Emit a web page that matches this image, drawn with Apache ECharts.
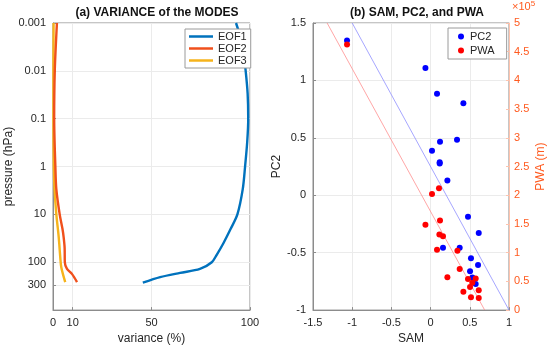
<!DOCTYPE html>
<html>
<head>
<meta charset="utf-8">
<script src="https://cdn.jsdelivr.net/npm/echarts@6/dist/echarts.min.js"></script>
<style>html,body{margin:0;padding:0;background:#fff}#c{width:550px;height:350px}</style>
</head>
<body>
<div id="c"></div>
<script>
// ---- Panel (a) data: pressure (hPa) vs variance (%)
const eof1P = [0.001, 0.003, 0.01, 0.03, 0.1, 0.3, 1, 3, 10, 20, 40, 70, 100, 138, 167, 205, 268];
const eof1V = [92.9, 96.3, 97.8, 98.8, 99.1, 98.6, 97.5, 96.3, 93.6, 90.2, 86.5, 83.1, 80.6, 74.6, 64.5, 54.4, 45.6];
const eof2P = [0.001, 0.01, 0.1, 1, 3, 10, 20, 30, 50, 100, 138, 175, 260];
const eof2V = [2.0, 0.9, 0.6, 1.2, 1.7, 3.4, 4.8, 5.4, 5.9, 6.0, 7.1, 9.6, 12.2];
const eof3P = [0.001, 0.01, 0.1, 1, 3, 10, 30, 80, 127, 260];
const eof3V = [0.3, 0.2, 0.2, 0.4, 0.8, 1.7, 2.9, 3.7, 4.2, 6.2];
const pressureTicks = [0.001, 0.01, 0.1, 1, 10, 100, 300];
const varianceTicks = [0, 10, 50, 100];

// ---- Panel (b) data
const samPC2 = [-1.066, -0.066, 0.082, 0.418, 0.337, 0.12, 0.018, 0.116, 0.116, 0.214, 0.477, 0.614, 0.158, 0.371, 0.515, 0.605, 0.503, 0.533, 0.575];
const pc2    = [1.347, 1.109, 0.884, 0.802, 0.483, 0.466, 0.388, 0.287, 0.276, 0.129, -0.187, -0.328, -0.457, -0.457, -0.549, -0.607, -0.661, -0.716, -0.773];
const samPWA = [-1.066, 0.107, 0.018, 0.12, -0.066, 0.112, 0.158, 0.082, 0.342, 0.371, 0.214, 0.477, 0.575, 0.533, 0.503, 0.418, 0.614, 0.515, 0.614];
const pwa    = [462600, 212100, 202200, 156200, 148800, 131600, 128600, 105200, 103400, 71700, 57400, 54000, 55200, 47600, 40200, 32100, 34500, 22400, 21200];
const fitPC2Sam = [-1.0, 1.0];
const fitPC2Val = [1.5, -1.0];
const fitPWASam = [-1.32, 0.69];
const fitPWAVal = [500000, 0];

const FONT = 'Liberation Sans';
const AX = '#8c8c8c';
const TXT = '#262626';
const ORANGE = '#FF5A1F';
const log10 = Math.log10;
const pair = (xs, ys, fx, fy) => xs.map((x, i) => [fx ? fx(x) : x, fy ? fy(ys[i]) : ys[i]]);

const chart = echarts.init(document.getElementById('c'), null, {renderer: 'canvas'});
const tickLbl = {fontFamily: FONT, fontSize: 11, color: TXT};

chart.setOption({
  animation: false,
  backgroundColor: '#fff',
  title: [
    {text: '(a) VARIANCE of the MODES', left: 152, top: 2, textAlign: 'center',
     textStyle: {fontFamily: FONT, fontSize: 12, fontWeight: 'bold', color: '#111'}},
    {text: '(b) SAM, PC2, and PWA', left: 412, top: 2, textAlign: 'center',
     textStyle: {fontFamily: FONT, fontSize: 12, fontWeight: 'bold', color: '#111'}}
  ],
  grid: [
    {left: 53, top: 23, width: 197, height: 290, show: true, borderColor: AX, borderWidth: 1},
    {left: 313, top: 23, width: 196, height: 290, show: true, borderColor: AX, borderWidth: 1}
  ],
  legend: [
    {data: [{name: 'EOF1', icon: 'rect'}, {name: 'EOF2', icon: 'rect'}, {name: 'EOF3', icon: 'rect'}],
     orient: 'vertical', left: 185, top: 29,
     padding: [2, 4, 2, 4], itemGap: 1, itemWidth: 24, itemHeight: 2.5,
     backgroundColor: '#fff', borderColor: '#9a9a9a', borderWidth: 1, borderRadius: 0,
     textStyle: {fontFamily: FONT, fontSize: 11, color: TXT, lineHeight: 11}},
    {data: ['PC2', 'PWA'], orient: 'vertical', left: 448, top: 28,
     padding: [3, 12, 3, 10], itemGap: 3, itemWidth: 8, itemHeight: 6,
     backgroundColor: '#fff', borderColor: '#9a9a9a', borderWidth: 1, borderRadius: 0,
     textStyle: {fontFamily: FONT, fontSize: 11, color: TXT}}
  ],
  xAxis: [
    {gridIndex: 0, type: 'value', min: 0, max: 100,
     name: 'variance (%)', nameLocation: 'middle', nameGap: 20,
     nameTextStyle: {fontFamily: FONT, fontSize: 12, color: TXT},
     axisLine: {show: true, onZero: false, lineStyle: {color: AX}},
     axisTick: {show: true, inside: true, length: 3, customValues: varianceTicks, lineStyle: {color: AX}},
     axisLabel: Object.assign({customValues: varianceTicks, margin: 7}, tickLbl),
     splitLine: {show: true, lineStyle: {color: '#ebebeb'}}},
    {gridIndex: 1, type: 'value', min: -1.5, max: 1, interval: 0.5,
     name: 'SAM', nameLocation: 'middle', nameGap: 20,
     nameTextStyle: {fontFamily: FONT, fontSize: 12, color: TXT},
     axisLine: {show: true, onZero: false, lineStyle: {color: AX}},
     axisTick: {show: true, inside: true, length: 3, lineStyle: {color: AX}},
     axisLabel: Object.assign({margin: 7}, tickLbl),
     splitLine: {show: true, lineStyle: {color: '#ebebeb'}}}
  ],
  yAxis: [
    {gridIndex: 0, type: 'value', min: -3, max: 3, inverse: true,
     name: 'pressure (hPa)', nameLocation: 'middle', nameGap: 28,
     nameTextStyle: {fontFamily: FONT, fontSize: 12, color: TXT},
     axisLine: {show: true, onZero: false, lineStyle: {color: AX}},
     axisTick: {show: true, inside: true, length: 3, customValues: pressureTicks.map(log10), lineStyle: {color: AX}},
     axisLabel: Object.assign({customValues: pressureTicks.map(log10), margin: 7,
       formatter: v => { const p = Math.pow(10, v); return p < 1 ? String(+p.toPrecision(1)) : String(Math.round(p)); }}, tickLbl),
     splitLine: {show: true, lineStyle: {color: '#ebebeb'}}},
    {gridIndex: 1, type: 'value', min: -1, max: 1.5, interval: 0.5, position: 'left',
     name: 'PC2', nameLocation: 'middle', nameGap: 23,
     nameTextStyle: {fontFamily: FONT, fontSize: 12, color: TXT},
     axisLine: {show: true, onZero: false, lineStyle: {color: AX}},
     axisTick: {show: true, inside: true, length: 3, lineStyle: {color: AX}},
     axisLabel: Object.assign({margin: 7}, tickLbl),
     splitLine: {show: true, lineStyle: {color: '#ebebeb'}}},
    {gridIndex: 1, type: 'value', min: 0, max: 500000, interval: 50000, position: 'right',
     name: 'PWA (m)', nameLocation: 'middle', nameGap: 26, nameRotate: 90,
     nameTextStyle: {fontFamily: FONT, fontSize: 12, color: ORANGE},
     axisLine: {show: true, onZero: false, lineStyle: {color: '#FFC3AD'}},
     axisTick: {show: true, inside: true, length: 3, lineStyle: {color: '#FFC3AD'}},
     axisLabel: {margin: 5, fontFamily: FONT, fontSize: 11, color: ORANGE, formatter: v => String(+(v / 1e5).toFixed(1))},
     splitLine: {show: false}}
  ],
  graphic: [
    {type: 'text', left: 512, top: 0,
     style: {text: '×10{s|5}', fill: ORANGE, font: '11px Liberation Sans',
       rich: {s: {fontSize: 8, verticalAlign: 'top', fill: ORANGE, fontFamily: FONT, padding: [0, 0, 6, 0]}}}}
  ],
  series: [
    {name: 'EOF1', type: 'line', xAxisIndex: 0, yAxisIndex: 0, data: pair(eof1V, eof1P, null, log10),
     smooth: 0.3, symbol: 'none', lineStyle: {width: 2.4, color: '#0072BD'}, itemStyle: {color: '#0072BD'}, z: 3},
    {name: 'EOF2', type: 'line', xAxisIndex: 0, yAxisIndex: 0, data: pair(eof2V, eof2P, null, log10),
     smooth: 0.3, symbol: 'none', lineStyle: {width: 2.4, color: '#F0501C'}, itemStyle: {color: '#F0501C'}, z: 3},
    {name: 'EOF3', type: 'line', xAxisIndex: 0, yAxisIndex: 0, data: pair(eof3V, eof3P, null, log10),
     smooth: 0.3, symbol: 'none', lineStyle: {width: 2.4, color: '#F6B31B'}, itemStyle: {color: '#F6B31B'}, z: 2},
    {name: 'fitPC2', type: 'line', xAxisIndex: 1, yAxisIndex: 1, data: pair(fitPC2Sam, fitPC2Val),
     symbol: 'none', lineStyle: {width: 0.8, color: '#8f8fff'}, silent: true, z: 1},
    {name: 'fitPWA', type: 'line', xAxisIndex: 1, yAxisIndex: 2, data: pair(fitPWASam, fitPWAVal),
     symbol: 'none', lineStyle: {width: 0.8, color: '#ff8f8f'}, silent: true, z: 1},
    {name: 'PC2', type: 'scatter', xAxisIndex: 1, yAxisIndex: 1, data: pair(samPC2, pc2),
     symbolSize: 6, itemStyle: {color: '#0000FF', opacity: 1}, z: 4},
    {name: 'PWA', type: 'scatter', xAxisIndex: 1, yAxisIndex: 2, data: pair(samPWA, pwa),
     symbolSize: 6, itemStyle: {color: '#FF0000', opacity: 1}, z: 5}
  ]
});
</script>
</body>
</html>
